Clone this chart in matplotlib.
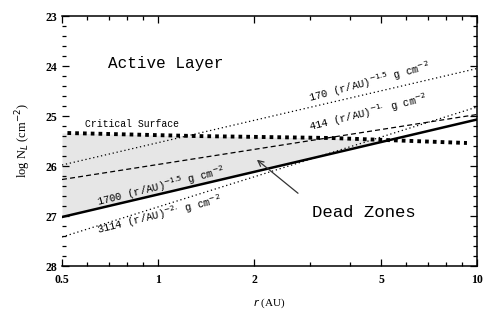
import numpy as np
import matplotlib
matplotlib.use('Agg')
from matplotlib import pyplot as plt

# radii at the two ends of the power law lines (AU)
r_ends = [0.5, 10]

# log N at r = 0.5 and r = 10 for each surface density law
line_170 = [25.98, 24.05]
line_414 = [26.27, 24.97]
line_1700 = [27.02, 25.07]
line_3114 = [27.42, 24.82]

# critical surface
crit_r = [0.52, 1.3, 3.5, 9.3]
crit_logn = [25.34, 25.40, 25.44, 25.54]

x_ticks = [0.5, 1, 2, 5, 10]
x_ticklabels = ['0.5', '1', '2', '5', '10']
x_minor = [0.6, 0.7, 0.8, 0.9, 3, 4, 6, 7, 8, 9]
y_ticks = [23, 24, 25, 26, 27, 28]

mono = 'Liberation Mono'
serif = 'Liberation Serif'


def logn_at(r, ends):
    '''
    straight line in log-log between the two end values
    '''
    return np.interp(np.log10(r), np.log10(r_ends), ends)


def draw_chart():
    fig = plt.figure(figsize=(4.94, 3.12), dpi=100)
    ax = fig.add_axes([0.1255, 0.1474, 0.8401, 0.8013])

    # shaded region between critical surface and the 1700 law
    rr = np.geomspace(0.5, 10, 400)
    top = np.interp(np.log10(rr), np.log10(crit_r), crit_logn)
    bottom = logn_at(rr, line_1700)
    ax.fill_between(rr, top, bottom, where=top < bottom, color='#e6e6e6',
                    lw=0, interpolate=True)

    ax.plot(r_ends, line_170, color='black', lw=0.9, linestyle=(0, (1, 2.2)))
    ax.plot(r_ends, line_414, color='black', lw=0.9, linestyle=(0, (4, 2.5)))
    ax.plot(r_ends, line_1700, color='black', lw=1.8)
    ax.plot(r_ends, line_3114, color='black', lw=0.9, linestyle=(0, (1, 2.2)))
    ax.plot(crit_r, crit_logn, color='black', lw=2.8,
            linestyle=(0, (0.95, 1.05)), dash_capstyle='butt')

    # labels along the lines
    lab = dict(fontsize=7.6, family=mono, rotation_mode='anchor',
               ha='left', va='baseline')
    ax.text(2.99, 24.72, '170 (r/AU)$^{-1.5}$ g cm$^{-2}$', rotation=15, **lab)
    ax.text(2.99, 25.30, '414 (r/AU)$^{-1.}$ g cm$^{-2}$', rotation=14, **lab)
    ax.text(0.65, 26.80, '1700 (r/AU)$^{-1.5}$ g cm$^{-2}$', rotation=14, **lab)
    ax.text(0.65, 27.36, '3114 (r/AU)$^{-2.}$ g cm$^{-2}$', rotation=14, **lab)
    ax.text(0.83, 25.16, 'Critical Surface', fontsize=7, family=mono,
            ha='center', va='center')

    ax.text(1.06, 23.94, 'Active Layer', fontsize=11.5, family=mono,
            ha='center', va='center')
    ax.text(4.41, 26.92, 'Dead Zones', fontsize=12.5, family=mono,
            ha='center', va='center')
    ax.annotate('', xy=(2.01, 25.84), xytext=(2.79, 26.58),
                arrowprops=dict(arrowstyle='->', color='#333333', lw=0.9))

    ax.set_xscale('log')
    ax.set_xlim(0.5, 10)
    ax.set_ylim(28, 23)
    ax.set_xticks(x_ticks)
    ax.set_xticklabels(x_ticklabels)
    ax.set_xticks(x_minor, minor=True)
    ax.set_xticklabels([], minor=True)
    ax.set_yticks(y_ticks)
    ax.set_yticks(np.arange(23, 28.01, 0.2), minor=True)
    for lbl in ax.get_xticklabels() + ax.get_yticklabels():
        lbl.set_family(serif)
        lbl.set_fontsize(8.5)
        lbl.set_fontweight('bold')

    ax.tick_params(which='both', direction='in', top=True, right=True,
                   width=0.9)
    ax.tick_params(axis='x', pad=6)
    ax.tick_params(which='major', length=5)
    ax.tick_params(which='minor', length=3)
    for side in ['top', 'bottom', 'right']:
        ax.spines[side].set_linewidth(1.1)
    ax.spines['left'].set_visible(False)

    ax.set_xlabel('$r$ (AU)', fontsize=8, family=serif, labelpad=7)
    ax.set_ylabel('log N$_L$ (cm$^{-2}$)', fontsize=9, family=serif,
                  labelpad=9)

    fig.savefig('out.png', dpi=100)


draw_chart()
